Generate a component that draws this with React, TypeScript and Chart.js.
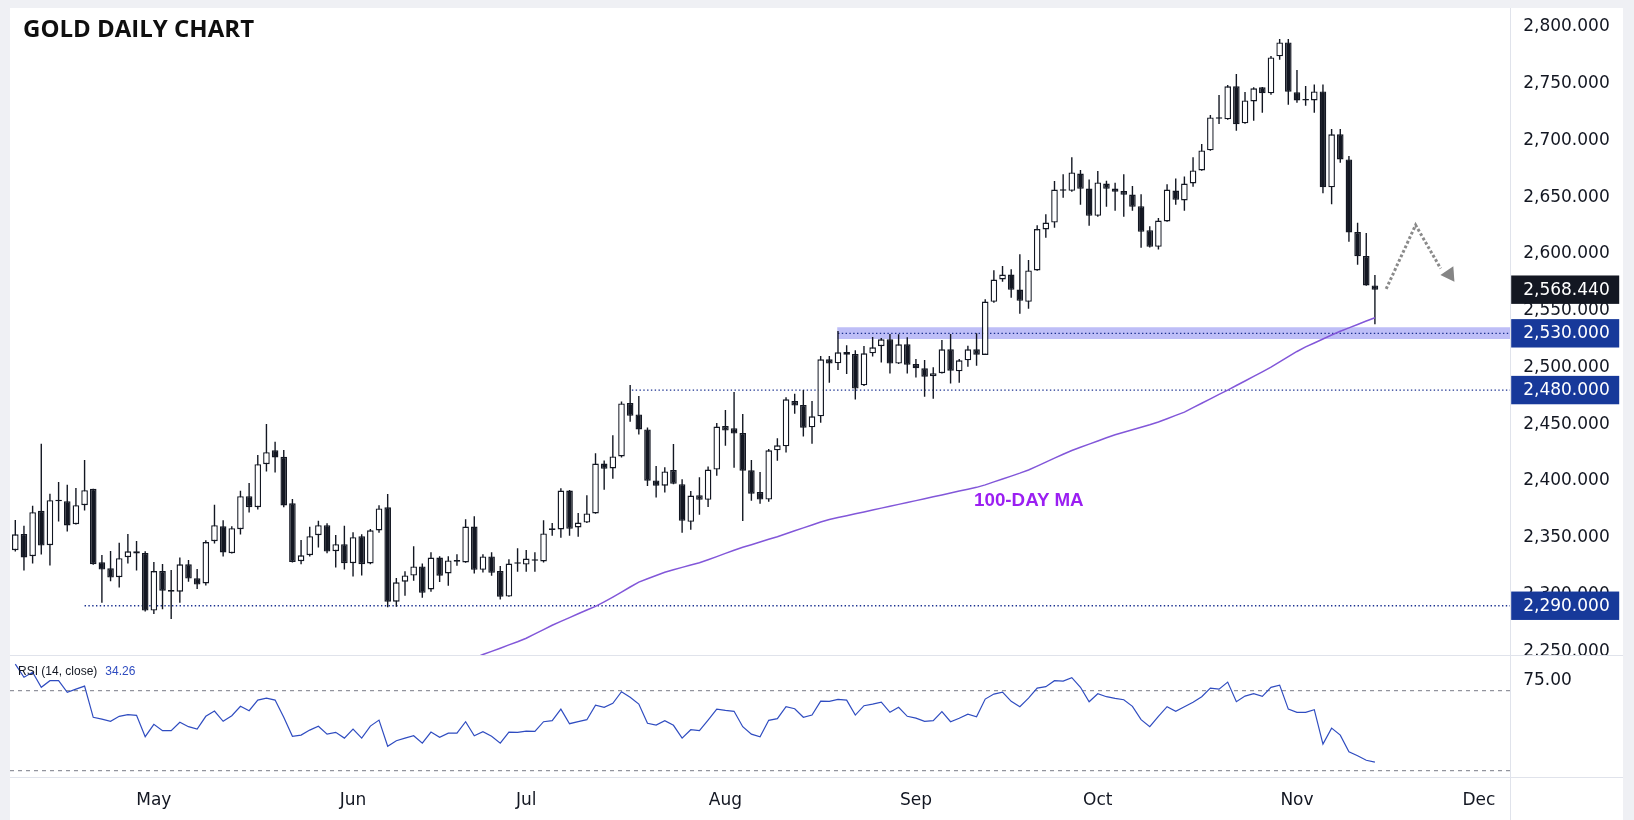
import React, { useEffect, useRef } from 'react';
import { Chart, registerables } from 'chart.js';

Chart.register(...registerables);

// ---- Daily OHLC, one entry per trading day (Apr 9 .. Nov 14) ----
const open = [2338.9,2353.3,2333.6,2373.6,2343.3,2383.0,2382.1,2361.8,2378.6,2393.0,
2328.3,2323.0,2315.1,2332.7,2338.0,2336.5,2285.7,2320.6,2303.6,2302.4,
2326.5,2314.2,2309.6,2346.8,2360.0,2336.3,2357.4,2386.5,2376.8,2414.7,
2427.0,2421.2,2380.3,2329.2,2334.5,2352.1,2361.0,2338.0,2344.2,2327.5,
2351.3,2327.2,2356.3,2376.7,2293.6,2311.2,2316.6,2324.6,2304.3,2332.5,
2318.4,2328.8,2328.1,2359.8,2321.6,2333.4,2320.5,2298.1,2327.0,2326.3,
2331.0,2329.0,2356.8,2357.2,2391.5,2359.0,2363.3,2371.3,2415.3,2410.9,
2421.5,2468.5,2458.5,2445.3,2400.4,2395.7,2409.5,2397.1,2363.9,2387.4,
2383.3,2410.0,2448.3,2446.4,2442.2,2409.3,2390.2,2383.5,2426.9,2430.4,
2470.4,2466.9,2447.2,2456.9,2507.1,2503.6,2513.6,2511.8,2484.2,2512.4,
2518.6,2524.7,2503.3,2520.3,2503.0,2499.2,2492.1,2494.8,2515.9,2496.5,
2506.2,2515.9,2511.0,2557.7,2577.4,2581.8,2568.6,2557.7,2585.4,2621.5,
2627.6,2656.7,2655.5,2670.8,2657.6,2633.5,2662.0,2657.6,2655.3,2652.3,
2642.0,2620.9,2606.2,2628.5,2655.8,2647.0,2662.0,2673.5,2691.2,2720.0,
2718.5,2747.6,2715.0,2734.3,2746.7,2741.4,2774.0,2786.3,2742.3,2735.6,
2735.2,2743.1,2658.6,2705.3,2683.2,2619.2,2598.1,2572.2];

const high = [2365.6,2360.4,2378.0,2432.6,2388.6,2399.1,2396.5,2393.8,2418.5,2393.0,
2334.8,2338.3,2345.4,2353.3,2347.1,2338.0,2328.5,2326.8,2321.5,2332.6,
2330.3,2322.4,2347.7,2378.9,2365.4,2360.0,2391.2,2398.2,2422.9,2450.2,
2434.4,2427.3,2384.1,2348.0,2359.5,2364.8,2362.7,2352.4,2360.4,2354.8,
2353.0,2357.7,2378.6,2388.5,2314.4,2320.4,2342.5,2327.2,2337.2,2333.7,
2333.7,2335.4,2366.3,2368.9,2335.4,2337.2,2324.9,2331.0,2340.7,2339.0,
2337.2,2365.4,2362.8,2393.6,2392.0,2371.6,2387.4,2424.4,2418.0,2440.3,
2470.0,2484.4,2474.7,2447.0,2413.0,2412.1,2432.4,2401.5,2391.0,2403.3,
2412.7,2450.9,2462.4,2478.4,2458.9,2418.4,2407.8,2428.1,2437.5,2473.6,
2476.8,2480.1,2470.4,2510.0,2510.0,2532.1,2519.4,2515.0,2518.8,2526.8,
2525.9,2529.4,2529.1,2526.5,2507.4,2506.5,2500.0,2524.1,2529.4,2507.4,
2519.1,2530.0,2560.1,2585.6,2589.2,2586.5,2599.7,2594.5,2625.3,2635.0,
2664.1,2670.2,2685.2,2673.8,2665.5,2672.9,2664.4,2662.6,2670.2,2659.7,
2652.6,2624.4,2631.5,2661.4,2666.4,2668.2,2685.2,2696.7,2722.3,2739.9,
2748.7,2758.4,2742.6,2746.7,2747.0,2774.3,2789.3,2789.3,2761.9,2747.8,
2749.3,2749.3,2710.0,2710.0,2686.2,2627.4,2618.3,2581.3];

const low = [2337.7,2321.0,2327.2,2335.1,2325.4,2364.2,2355.4,2361.5,2373.9,2326.0,
2292.7,2311.6,2306.0,2327.2,2321.0,2285.0,2282.7,2286.8,2278.3,2292.7,
2311.2,2304.8,2307.8,2344.8,2333.3,2336.0,2352.7,2372.1,2374.7,2408.2,
2407.4,2376.8,2328.0,2326.6,2333.3,2341.3,2336.3,2323.6,2321.9,2315.7,
2316.6,2326.6,2354.2,2288.6,2289.2,2298.8,2312.0,2297.0,2302.3,2311.0,
2307.5,2325.2,2327.8,2318.4,2319.3,2316.4,2295.5,2297.9,2319.9,2319.9,
2319.9,2328.1,2351.6,2349.8,2351.6,2350.7,2363.0,2371.0,2392.1,2401.8,
2420.6,2452.0,2440.9,2395.4,2385.4,2389.8,2397.1,2354.2,2356.9,2370.1,
2377.0,2404.5,2431.0,2411.6,2364.6,2382.6,2379.9,2381.7,2417.8,2424.9,
2459.2,2439.0,2432.8,2451.3,2486.5,2497.7,2494.2,2471.6,2483.6,2509.5,
2504.2,2494.5,2503.0,2494.5,2491.0,2474.2,2472.4,2494.5,2485.7,2486.5,
2500.6,2501.5,2510.8,2556.9,2575.4,2561.3,2547.2,2551.6,2585.1,2614.1,
2622.9,2649.4,2654.7,2643.2,2624.7,2632.6,2641.4,2637.9,2632.6,2637.9,
2605.3,2605.6,2603.9,2628.2,2643.2,2637.9,2659.1,2673.2,2690.9,2714.4,
2718.2,2708.5,2714.7,2717.3,2724.4,2740.2,2771.0,2731.4,2733.2,2730.5,
2724.4,2653.3,2643.6,2680.3,2610.7,2590.4,2571.9,2537.9];

const close = [2353.0,2332.5,2372.4,2343.0,2383.0,2382.0,2360.7,2378.6,2391.8,2326.6,
2321.9,2314.8,2331.9,2338.0,2336.0,2285.7,2320.6,2303.3,2302.4,2326.5,
2313.9,2308.6,2346.1,2361.0,2336.9,2358.3,2386.5,2376.8,2414.7,2425.3,
2420.6,2378.3,2328.6,2334.5,2351.3,2361.0,2337.7,2344.2,2327.5,2350.4,
2326.6,2356.4,2375.7,2293.6,2310.6,2316.7,2324.6,2301.4,2332.5,2316.4,
2329.9,2329.6,2359.8,2321.6,2333.4,2319.0,2297.9,2327.2,2327.8,2331.6,
2329.6,2353.7,2357.6,2391.5,2357.8,2363.3,2371.3,2415.3,2410.6,2421.5,
2468.2,2457.3,2445.3,2400.1,2395.7,2408.3,2397.4,2364.8,2387.1,2383.3,
2410.0,2447.9,2444.3,2441.7,2409.0,2388.7,2383.5,2426.9,2431.3,2471.9,
2466.3,2446.9,2456.9,2507.1,2503.3,2513.3,2511.2,2481.3,2512.4,2517.7,
2524.7,2503.3,2520.3,2502.4,2499.2,2491.8,2494.8,2515.9,2497.1,2506.2,
2515.9,2511.2,2558.0,2577.4,2581.8,2568.3,2558.6,2585.4,2621.8,2627.6,
2656.7,2655.5,2671.7,2657.3,2633.5,2662.9,2657.3,2654.7,2652.0,2641.4,
2619.4,2606.2,2629.4,2656.7,2647.6,2662.0,2673.5,2691.1,2720.2,2719.0,
2747.6,2714.1,2735.2,2745.8,2741.4,2773.1,2786.3,2742.9,2735.2,2735.0,
2743.1,2658.6,2705.3,2683.2,2618.9,2597.8,2572.2,2568.44];

// ---- 100-day moving average (starts at day index 50) ----
const ma100FirstDay = 50;
const ma100 = [2236,2238.5,2241,2244,2247,2249.8,2252.6,2255.5,2258.3,2261.4,
2265.2,2269,2272.8,2276.2,2279.5,2282.9,2286.2,2289.4,2293.4,2297.6,
2302,2306.5,2310.8,2313.8,2316.6,2319.5,2321.7,2323.8,2325.9,2327.8,
2330.5,2333.3,2336.1,2338.9,2341.5,2343.8,2346.2,2348.5,2350.8,2353.4,
2356,2358.6,2361.2,2363.8,2366,2367.7,2369.3,2371,2372.6,2374.3,
2376,2377.6,2379.3,2381,2382.6,2384.3,2386,2387.6,2389.3,2391,
2392.6,2394.3,2396.5,2399.1,2401.6,2404.2,2406.8,2409.6,2413,2416.5,
2420,2423.5,2426.8,2429.6,2432.4,2435.2,2438,2440.7,2442.9,2445.1,
2447.3,2449.5,2451.9,2454.8,2457.7,2460.6,2464.5,2468.4,2472.3,2476.2,
2480,2484,2488,2492,2496,2500.2,2504.8,2509.4,2514,2518,
2521.5,2525,2528.5,2531.8,2534.8,2537.8,2540.8,2543.7];

// ---- RSI (14, close) ----
const rsi = [83.3,76.7,79.2,71.7,75,75,69.2,70.8,72.3,56.7,
55.8,54.7,57.2,58,57.7,47,53.2,50,50,54.2,
52,50.8,57.2,59.8,54.7,57.5,62.2,60,65.3,66.3,
65.3,56.7,47.2,47.8,50.3,52.2,48.3,49.2,46.3,50.8,
46.3,52.3,55.3,42.2,45,46.3,47.5,43.8,49.3,46.7,
48.8,48.8,54.5,47.5,49.5,47.2,43.8,49.3,49.2,49.8,
49.7,54.5,55,60.8,53.5,54.5,55.5,62.8,61.7,63.7,
69.5,66.7,63.3,53.7,52.8,55,52.7,46.3,50.5,50,
55.3,60.8,60.2,59.7,52,48.3,47,55.2,56,62,
61,56.7,57.8,64.8,64.7,65.7,65.3,57.8,62.5,63.3,
64.3,59.2,61.7,57.2,56.3,54.7,55,59.5,54.5,56.2,
58.3,57,65.8,68.3,69.3,64.7,62,66.3,71.3,72,
75,74.8,76.5,71.7,64.5,68.5,67,66.2,65.5,62.2,
55.5,52,57.2,62,59.7,62,64.2,67,71.3,70.8,
74.3,64.5,67.3,68.5,67.2,71.7,72.8,60.8,59.2,59.2,
60.5,43.3,51.3,47.8,39.5,37.5,35.2,34.26];
const rsiBands = [70, 30];
const rsiTicks = [75];

// ---- axes ----
const monthTicks = [16, 39, 59, 82, 104, 125, 148, 169];
const monthLabels = ['May', 'Jun', 'Jul', 'Aug', 'Sep', 'Oct', 'Nov', 'Dec'];
const priceTicks = [2250, 2300, 2350, 2400, 2450, 2500, 2550, 2600, 2650, 2700, 2750, 2800];

// ---- annotations (day index, price) ----
const levelPrices = [2530, 2480, 2290];
const levelStartDay = [95, 71.2, 8];
const zoneBand = [2525, 2535.3];
const zoneStartDay = 94.9;
const projectionDay = [158.3, 161.7, 164.6];
const projectionPrice = [2569.1, 2625.4, 2587.0];
const arrowHead = { day: 165.6, price: 2582.0 };

const X_MIN = -0.612;
const X_MAX = 172.68;
const DARK = '#131722';
const NAVY = '#17399a';
const AXIS_FONT = 'DejaVu Sans';

const fmtPrice = (v: number) =>
  v.toLocaleString('en-US', { minimumFractionDigits: 3, maximumFractionDigits: 3 });

const priceBoxesPlugin = {
  id: 'priceBoxes',
  afterDraw(chart: any) {
    const { ctx, chartArea, scales } = chart;
    const items: [number, string][] = [[close[close.length - 1], DARK]];
    levelPrices.forEach((p) => items.push([p, NAVY]));
    ctx.save();
    ctx.font = `17px "${AXIS_FONT}"`;
    ctx.textBaseline = 'middle';
    ctx.textAlign = 'left';
    items.forEach(([p, c]) => {
      const y = scales.y.getPixelForValue(p);
      const x0 = chartArea.right + 0.5;
      ctx.fillStyle = c;
      ctx.fillRect(x0, y - 14.2, 108, 28.4);
      ctx.fillStyle = '#ffffff';
      ctx.fillText(fmtPrice(p), chartArea.right + 12.5, y + 0.5);
    });
    ctx.restore();
  },
};

export default function App() {
  const priceRef = useRef<HTMLCanvasElement>(null);
  const rsiRef = useRef<HTMLCanvasElement>(null);

  useEffect(() => {
    document.body.style.margin = '0';
    const days = close.map((_, i) => i);
    const lineAt = (start: number, y: number) => [
      { x: start, y },
      { x: X_MAX, y },
    ];

    const priceChart = new Chart(priceRef.current as HTMLCanvasElement, {
      type: 'bar',
      data: {
        datasets: [
          {
            type: 'line',
            data: ma100.map((v, k) => ({ x: ma100FirstDay + k, y: v })),
            borderColor: '#8257d9',
            borderWidth: 1.5,
            pointRadius: 0,
            tension: 0,
            order: 0,
          } as any,
          {
            type: 'line',
            data: projectionDay.map((d, k) => ({ x: d, y: projectionPrice[k] })),
            borderColor: '#8a8a8a',
            borderWidth: 3,
            borderDash: [2.8, 2.2],
            pointRadius: 0,
            order: 0,
          } as any,
          {
            type: 'line',
            data: [{ x: arrowHead.day, y: arrowHead.price }],
            showLine: false,
            pointStyle: 'triangle',
            pointRadius: 9,
            pointRotation: 146,
            pointBackgroundColor: '#858585',
            pointBorderWidth: 0,
            order: 0,
          } as any,
          {
            type: 'bar',
            data: days.map((i) => ({ x: i, y: [open[i], close[i]] })),
            backgroundColor: days.map((i) => (close[i] >= open[i] ? '#ffffff' : DARK)),
            borderColor: DARK,
            borderWidth: 1.4,
            borderSkipped: false,
            barThickness: 6.6,
            minBarLength: 1.6,
            inflateAmount: 0,
            grouped: false,
            order: 1,
          } as any,
          {
            type: 'bar',
            data: days.map((i) => ({ x: i, y: [low[i], high[i]] })),
            backgroundColor: DARK,
            borderWidth: 0,
            barThickness: 1.4,
            inflateAmount: 0,
            grouped: false,
            order: 2,
          } as any,
          ...levelPrices.map(
            (p, k) =>
              ({
                type: 'line',
                data: lineAt(levelStartDay[k], p),
                borderColor: '#1b3190',
                borderWidth: 1.3,
                borderDash: [1.4, 2.4],
                pointRadius: 0,
                order: 3,
              } as any)
          ),
          {
            type: 'line',
            data: lineAt(zoneStartDay, zoneBand[1]),
            borderWidth: 0,
            pointRadius: 0,
            fill: '+1',
            backgroundColor: 'rgba(110,110,238,0.45)',
            order: 5,
          } as any,
          {
            type: 'line',
            data: lineAt(zoneStartDay, zoneBand[0]),
            borderWidth: 0,
            pointRadius: 0,
            order: 6,
          } as any,
        ],
      },
      options: {
        animation: false,
        responsive: false,
        maintainAspectRatio: false,
        layout: { padding: 0, autoPadding: false } as any,
        plugins: { legend: { display: false }, tooltip: { enabled: false } },
        scales: {
          x: {
            type: 'linear',
            min: X_MIN,
            max: X_MAX,
            display: false,
            offset: false,
            grid: { display: false, offset: false },
          },
          y: {
            type: 'linear',
            position: 'right',
            min: 2246.6,
            max: 2816.6,
            grid: { display: false, drawTicks: false },
            border: { display: false },
            afterFit: (s: any) => {
              s.width = 112.3;
              s.paddingTop = 0;
              s.paddingBottom = 0;
            },
            afterBuildTicks: (s: any) => {
              s.ticks = priceTicks.map((v) => ({ value: v }));
            },
            ticks: {
              padding: 12.5,
              color: DARK,
              font: { family: AXIS_FONT, size: 17 },
              callback: (v: any) => fmtPrice(Number(v)),
            },
          },
        },
      } as any,
      plugins: [priceBoxesPlugin],
    });

    const rsiChart = new Chart(rsiRef.current as HTMLCanvasElement, {
      type: 'line',
      data: {
        datasets: [
          {
            data: days.map((i) => ({ x: i, y: rsi[i] })),
            borderColor: '#2f4cc0',
            borderWidth: 1.2,
            pointRadius: 0,
            tension: 0,
          },
          ...rsiBands.map((b) => ({
            data: lineAt(X_MIN, b),
            borderColor: '#787b86',
            borderWidth: 1,
            borderDash: [4, 4],
            pointRadius: 0,
          })),
        ],
      },
      options: {
        animation: false,
        responsive: false,
        maintainAspectRatio: false,
        layout: { padding: 0, autoPadding: false } as any,
        plugins: { legend: { display: false }, tooltip: { enabled: false } },
        scales: {
          x: {
            type: 'linear',
            min: X_MIN,
            max: X_MAX,
            offset: false,
            grid: { display: false, drawTicks: false },
            border: { display: false },
            afterFit: (s: any) => {
              s.height = 43;
              s.paddingLeft = 0;
              s.paddingRight = 0;
            },
            afterBuildTicks: (s: any) => {
              s.ticks = monthTicks.map((v) => ({ value: v }));
            },
            ticks: {
              autoSkip: false,
              maxRotation: 0,
              padding: 13,
              color: DARK,
              font: { family: AXIS_FONT, size: 17 },
              callback: (v: any) => monthLabels[monthTicks.indexOf(Number(v))],
            },
          },
          y: {
            type: 'linear',
            position: 'right',
            min: 26.85,
            max: 87.85,
            grid: { display: false, drawTicks: false },
            border: { display: false },
            afterFit: (s: any) => {
              s.width = 112.3;
              s.paddingTop = 0;
              s.paddingBottom = 0;
            },
            afterBuildTicks: (s: any) => {
              s.ticks = rsiTicks.map((v) => ({ value: v }));
            },
            ticks: {
              padding: 12.5,
              color: DARK,
              font: { family: AXIS_FONT, size: 17 },
              callback: (v: any) => Number(v).toFixed(2),
            },
          },
        },
      } as any,
    });

    return () => {
      priceChart.destroy();
      rsiChart.destroy();
    };
  }, []);

  const sep = '#e0e3eb';
  return (
    <div style={{ position: 'relative', width: 1634, height: 820, background: '#eff0f4', overflow: 'hidden' }}>
      <div style={{ position: 'absolute', left: 10, top: 8, width: 1613, height: 812, background: '#ffffff' }} />
      <canvas
        ref={priceRef}
        width={1613}
        height={647}
        style={{ position: 'absolute', left: 10, top: 8, width: 1613, height: 647 }}
      />
      <canvas
        ref={rsiRef}
        width={1613}
        height={165}
        style={{ position: 'absolute', left: 10, top: 655, width: 1613, height: 165 }}
      />
      <div style={{ position: 'absolute', left: 10, top: 655, width: 1613, height: 1, background: sep }} />
      <div style={{ position: 'absolute', left: 10, top: 777, width: 1613, height: 1, background: sep }} />
      <div style={{ position: 'absolute', left: 1510, top: 8, width: 1, height: 812, background: sep }} />
      <div
        style={{
          position: 'absolute',
          left: 23,
          top: 16,
          fontFamily: '"Open Sans", sans-serif',
          fontWeight: 700,
          fontSize: 24,
          lineHeight: 1,
          color: '#0f0f0f',
          whiteSpace: 'nowrap',
        }}
      >
        GOLD DAILY CHART
      </div>
      <div
        style={{
          position: 'absolute',
          left: 974,
          top: 491,
          fontFamily: '"Liberation Sans", Arial, sans-serif',
          fontWeight: 700,
          fontSize: 18.8,
          lineHeight: 1,
          color: '#9b1ff2',
          whiteSpace: 'nowrap',
        }}
      >
        100-DAY MA
      </div>
      <div
        style={{
          position: 'absolute',
          left: 18,
          top: 665,
          fontFamily: '"Liberation Sans", Arial, sans-serif',
          fontSize: 12,
          lineHeight: 1,
          color: DARK,
          whiteSpace: 'nowrap',
        }}
      >
        RSI (14, close)<span style={{ color: '#2f4cc0', marginLeft: 8 }}>34.26</span>
      </div>
    </div>
  );
}
